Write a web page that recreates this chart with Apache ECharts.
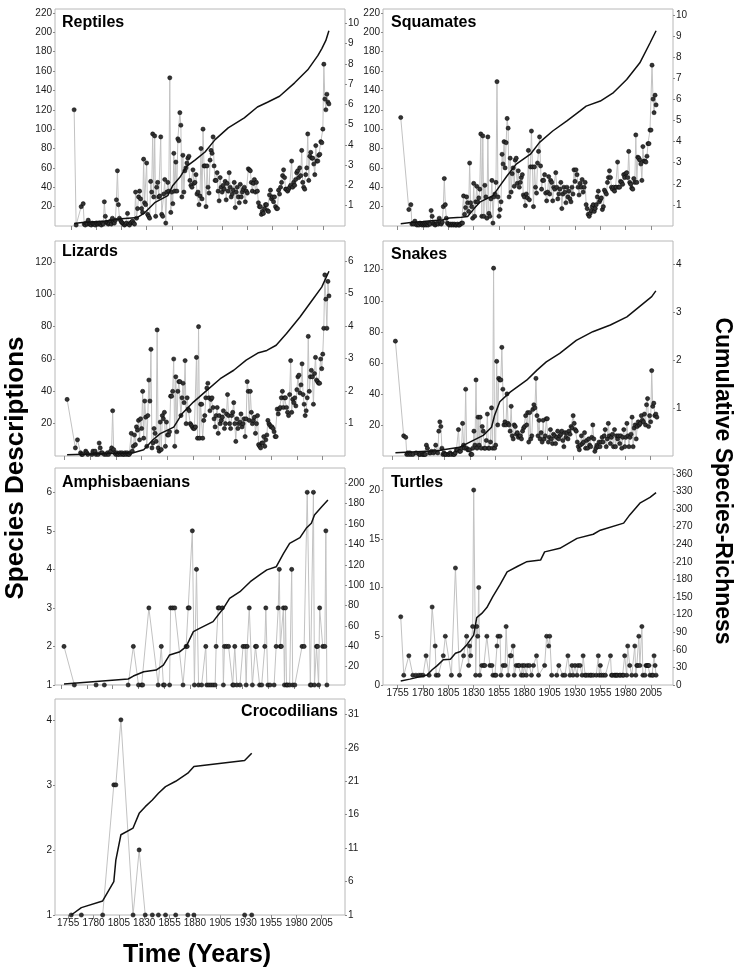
<!DOCTYPE html>
<html><head><meta charset="utf-8">
<script src="https://cdn.jsdelivr.net/npm/echarts@6/dist/echarts.min.js"></script>
<style>html,body{margin:0;padding:0;background:#fff}#c{width:735px;height:973px}</style>
</head><body><div id="c"></div>
<script>
// ---------- tick labels ----------
const tickYears = [1755,1780,1805,1830,1855,1880,1905,1930,1955,1980,2005];
const bigLeftTicks = [20,40,60,80,100,120,140,160,180,200,220];
const reptileRightTicks = [1,2,3,4,5,6,7,8,9,10];
const lizardLeftTicks = [20,40,60,80,100,120];
const lizardRightTicks = [1,2,3,4,5,6];
const snakeLeftTicks = [20,40,60,80,100,120];
const snakeRightTicks = [1,2,3,4];
const amphLeftTicks = [1,2,3,4,5,6];
const amphRightTicks = [20,40,60,80,100,120,140,160,180,200];
const turtleLeftTicks = [0,5,10,15,20];
const turtleRightTicks = [0,30,60,90,120,150,180,210,240,270,300,330,360];
const crocLeftTicks = [1,2,3,4];
const crocRightTicks = [1,6,11,16,21,26,31];

// ---------- Reptiles (annual, from 1758) ----------
const reptileStart = 1758;
const reptileDesc = [
 120,null,
 1,null,null,null,null,20,null,23,2,1,
 3,2,6,2,2,1,3,2,2,1,
 3,2,2,3,2,1,3,2,25,10,
 4,3,2,3,5,2,8,4,3,6,
 27,57,22,8,6,4,3,2,1,2,
 3,13,2,1,3,4,5,3,2,35,
 8,18,30,36,28,18,14,69,24,22,
 65,12,10,8,46,35,95,30,93,10,
 40,45,30,31,92,12,10,33,48,3,
 35,45,36,153,14,35,23,75,36,66,
 36,90,88,117,104,30,73,35,57,60,
 65,70,72,47,42,40,58,44,45,53,
 33,35,22,31,80,28,100,62,62,20,
 62,40,34,68,78,75,92,62,47,47,
 55,36,26,50,40,35,42,38,46,27,
 44,36,55,40,30,33,37,45,19,35,
 40,30,24,43,30,35,38,40,25,36,
 34,59,58,57,45,36,44,48,35,45,
 36,24,20,20,12,15,13,18,22,22,
 16,15,32,37,28,30,25,30,20,18,
 18,37,33,40,45,52,58,50,38,38,
 36,38,40,42,67,40,45,42,48,55,
 57,50,60,52,78,45,40,38,53,60,
 95,47,72,76,70,70,64,53,83,67,
 67,73,74,87,86,100,167,131,120,136,
 128,126
];
const reptileCumYears = [1758,1766,1790,1805,1815,1821,1828,1838,1851,1856,1863,1870,1878,1888,1898,1911,1927,1940,1950,1962,1977,1990,2000,2004,2008,2011];
const reptileCum = [0.12,0.17,0.25,0.36,0.40,0.42,0.65,1.15,1.50,2.00,2.40,2.95,3.25,3.65,4.26,4.84,5.33,5.87,6.10,6.40,7.06,7.70,8.40,8.75,9.15,9.63];

// ---------- Squamates ----------
const squamStart = 1758;
const squamDesc = [
 112,null,
 null,null,null,null,null,null,17,null,22,2,
 3,2,5,2,1,2,1,3,2,1,
 2,1,2,1,2,1,3,2,16,10,
 3,2,1,2,3,2,8,3,2,4,
 20,49,22,8,3,2,1,2,1,2,
 1,2,1,1,2,1,1,2,3,3,
 31,12,19,30,24,15,65,24,20,8,
 44,10,25,41,25,29,38,95,10,93,
 10,42,30,8,92,13,10,28,47,3,
 30,33,45,149,30,10,17,25,74,64,
 87,60,86,111,101,30,70,35,54,60,
 41,68,70,44,57,40,45,50,53,32,
 30,21,33,29,78,27,61,98,61,20,
 61,40,34,65,77,92,62,38,47,47,
 53,34,26,35,51,33,47,45,26,40,
 38,55,40,28,33,38,45,18,33,40,
 35,24,40,30,36,28,25,40,33,58,
 46,58,53,40,32,44,40,48,35,40,
 45,22,18,12,10,13,16,20,22,15,
 18,22,30,36,25,27,29,17,20,37,
 35,33,45,50,57,50,40,38,40,36,
 40,40,66,40,40,46,45,43,53,50,
 54,55,50,77,45,43,39,38,49,45,
 94,45,71,70,68,64,47,82,67,67,
 66,72,85,85,99,99,166,131,117,135,
 125
];
const squamCumYears = [1758,1768,1780,1800,1806,1818,1824,1830,1836,1849,1856,1863,1872,1886,1895,1908,1922,1935,1941,1955,1968,1981,1994,2004,2010];
const squamCum = [0.11,0.17,0.21,0.30,0.38,0.42,0.45,0.80,1.13,1.44,1.91,2.38,2.93,3.40,3.96,4.50,4.98,5.45,5.68,5.92,6.32,6.94,7.73,8.67,9.25];

// ---------- Lizards ----------
const lizardStart = 1758;
const lizardDesc = [
 35,null,
 null,null,null,null,null,null,5,null,10,null,
 null,2,1,1,null,null,3,2,1,null,
 null,null,1,3,null,3,1,null,1,8,
 5,2,2,null,1,null,1,2,1,null,
 3,5,28,4,2,1,2,1,1,2,
 1,2,1,1,2,1,2,1,1,2,
 14,3,6,13,7,18,16,22,10,23,
 17,40,11,34,24,6,25,47,34,66,
 5,8,17,14,9,78,5,3,21,4,
 25,23,27,6,21,13,13,15,37,37,
 40,60,6,49,15,40,46,46,25,36,
 45,33,59,20,36,29,28,20,19,18,
 17,17,18,61,11,80,11,32,32,11,
 22,25,36,42,45,36,28,35,36,30,
 23,18,25,30,14,25,20,22,24,28,
 17,20,26,38,25,20,17,25,27,33,
 20,9,23,17,20,21,26,18,20,23,
 12,23,46,40,22,40,27,20,22,24,
 14,20,25,7,6,5,8,8,12,6,
 10,13,22,20,19,18,18,17,15,12,
 12,29,26,29,30,36,40,30,36,36,
 30,27,25,38,59,27,35,33,36,31,
 41,49,50,39,44,57,38,32,25,28,
 36,74,40,49,53,49,32,51,61,47,
 46,45,45,60,54,63,79,112,97,79,
 108,99
];
const lizardCumYears = [1758,1800,1822,1832,1841,1848,1861,1869,1880,1893,1906,1919,1931,1943,1951,1960,1970,1983,1996,2004,2011];
const lizardCum = [0.04,0.08,0.10,0.19,0.50,0.69,0.89,1.30,1.66,2.02,2.38,2.64,2.95,3.18,3.25,3.41,3.77,4.28,4.85,5.20,5.69];

// ---------- Snakes ----------
const snakeStart = 1758;
const snakeDesc = [
 74,null,
 null,null,null,null,null,null,13,null,12,1,
 2,1,2,1,null,1,null,null,2,null,
 null,1,1,null,1,1,1,1,7,5,
 null,2,2,3,null,2,3,7,null,2,
 16,22,19,5,1,2,1,1,null,1,
 1,2,1,null,1,1,2,4,4,17,
 3,3,5,21,7,5,43,5,4,4,
 4,1,1,5,16,7,49,5,25,7,
 25,5,19,16,5,5,10,27,5,5,
 9,31,5,121,5,7,61,20,50,49,
 49,70,43,20,22,20,40,21,20,16,
 32,13,11,20,19,14,15,12,13,13,
 11,16,18,19,26,20,28,9,28,11,
 13,30,33,31,50,26,13,23,11,15,
 9,23,11,13,24,24,9,12,17,11,
 8,14,13,8,12,16,11,13,14,16,
 10,6,15,12,15,11,16,14,19,18,
 26,21,17,16,9,6,4,7,13,8,
 9,15,5,10,5,11,7,6,12,20,
 11,3,5,7,6,9,6,9,12,9,
 13,17,6,11,21,13,8,12,14,6,
 17,6,13,11,13,8,13,5,12,17,
 6,12,21,13,6,12,14,25,6,18,
 20,11,19,22,20,21,26,23,22,27,
 20,33,37,19,26,22,55,32,34,26,
 27,25
];
const snakeCumYears = [1758,1798,1820,1830,1843,1851,1854,1859,1869,1885,1895,1904,1917,1933,1949,1966,1982,1998,2006,2010];
const snakeCum = [0.07,0.11,0.18,0.29,0.43,0.60,0.85,1.13,1.33,1.58,1.79,1.96,2.14,2.41,2.59,2.73,2.90,3.18,3.32,3.44];

// ---------- Amphisbaenians ----------
const amphYears = [
 1758,1768,1789,1797,1820,1825,1830,1833,1834,1840,
 1849,1852,1854,1855,1860,1861,1863,1865,1873,1876,
 1877,1878,1879,1882,1884,1886,1888,1891,1895,1896,
 1898,1900,1902,1904,1905,1907,1908,1911,1912,1913,
 1915,1917,1921,1922,1923,1925,1928,1931,1933,1934,
 1935,1937,1940,1943,1944,1947,1949,1952,1953,1955,
 1957,1961,1963,1965,1966,1967,1968,1970,1971,1972,
 1973,1974,1976,1978,1979,1981,1988,1990,1993,1996,
 1997,1999,2000,2002,2003,2004,2005,2008,2010,2011,
 2012
];
const amphDesc = [
 2,1,1,1,1,2,1,1,1,3,
 1,2,1,1,1,3,3,3,1,2,
 2,3,3,5,1,4,1,1,2,1,
 1,1,1,1,2,3,3,3,1,2,
 2,2,1,1,2,1,1,2,2,1,
 2,3,1,2,2,1,1,2,3,1,
 1,1,2,3,4,2,2,3,1,3,
 1,1,1,4,1,1,2,2,6,1,
 1,6,1,2,2,1,3,2,2,5,
 1
];
const amphCumYears = [1758,1820,1825,1835,1847,1854,1860,1870,1876,1883,1889,1902,1912,1918,1928,1938,1947,1954,1963,1970,1976,1986,1992,1997,2000,2007,2013];
const amphCum = [3,7.9,10.8,15,16.7,21.6,31.5,34.7,39.6,54.4,57.6,64.2,77.3,87,93.6,103.4,110,115,118,131,141,146.6,155.8,160.7,168.9,177,183.6];

// ---------- Turtles ----------
const turtleYears = [
 1758,1761,1766,1770,1773,1776,1778,1780,1783,1786,
 1789,1792,1793,1795,1800,1802,1808,1812,1816,1820,
 1823,1825,1826,1827,1829,1830,1832,1833,1834,1835,
 1836,1838,1840,1841,1843,1846,1848,1849,1851,1852,
 1853,1854,1856,1857,1859,1861,1862,1864,1866,1867,
 1869,1870,1872,1874,1875,1877,1878,1879,1880,1882,
 1883,1885,1887,1889,1892,1894,1900,1902,1904,1905,
 1907,1912,1914,1918,1920,1923,1925,1927,1928,1930,
 1932,1933,1935,1937,1938,1940,1941,1943,1945,1946,
 1948,1951,1953,1954,1955,1956,1958,1960,1965,1966,
 1967,1969,1970,1971,1972,1974,1975,1977,1978,1979,
 1981,1982,1984,1986,1989,1990,1991,1992,1993,1994,
 1996,1997,1999,2000,2001,2002,2003,2004,2006,2007,
 2008,2009,2010
];
const turtleDesc = [
 7,1,3,1,1,1,1,1,3,1,
 8,4,1,1,3,5,1,12,1,3,
 5,2,4,3,6,20,1,6,5,10,
 1,2,2,2,5,2,2,1,1,1,
 4,5,5,1,2,2,6,1,3,3,
 4,1,2,2,2,1,2,1,2,1,
 2,2,1,2,3,1,2,5,4,5,
 1,1,2,1,1,3,1,2,1,2,
 1,2,2,1,3,1,1,1,1,1,
 1,1,3,1,2,1,1,1,3,1,
 1,1,1,1,1,1,1,1,1,3,
 1,4,2,1,4,1,2,2,5,2,
 6,1,1,2,2,2,2,1,1,1,
 3,2,1
];
const turtleCumYears = [1758,1767,1784,1789,1794,1800,1807,1812,1817,1823,1830,1833,1838,1843,1849,1856,1863,1873,1882,1896,1900,1915,1932,1948,1955,1978,1984,1994,2004,2010];
const turtleCum = [7,10,17,26,33,43,44,54,57,68,85,115,122,132,151,171,193,202,210,213,227,233,250,257,264,276,290,310,320,328];

// ---------- Crocodilians ----------
const crocYears = [1758,1768,1789,1800,1802,1807,1819,1825,1831,1838,1844,1851,1861,1873,1879,1929,1936];
const crocDesc = [1,1,1,3,3,4,1,2,1,1,1,1,1,1,1,1,1];
const crocCumYears = [1758,1768,1789,1800,1802,1807,1819,1825,1831,1838,1844,1851,1861,1873,1879,1929,1936];
const crocCum = [1,2.1,3.1,6,9.2,13,14,16.2,17.2,18.2,19.2,20.2,21,22.2,23.2,24.1,25.2];

// ---------- helpers ----------
const annual = (start, vals) => vals.map((v, i) => [start + i, v]);
const pairs = (xs, vs) => xs.map((x, i) => [x, vs[i]]);
const FONT = 'Liberation Sans, Arial, sans-serif';

const panels = [
 {name:'Reptiles', box:[55,9,290,217], x:[1739,2027], yl:[0,224], yr:[0,10.7], lt:bigLeftTicks, rt:reptileRightTicks,
  desc:annual(reptileStart, reptileDesc), cum:pairs(reptileCumYears, reptileCum), xl:false, tx:62, ty:23, ta:'left'},
 {name:'Squamates', box:[383,9,290,217], x:[1740.5,2026.7], yl:[0,224], yr:[0,10.28], lt:bigLeftTicks, rt:reptileRightTicks,
  desc:annual(squamStart, squamDesc), cum:pairs(squamCumYears, squamCum), xl:false, tx:391, ty:23, ta:'left'},
 {name:'Lizards', box:[55,241,290,215], x:[1746.3,2026.5], yl:[0,133], yr:[0,6.62], lt:lizardLeftTicks, rt:lizardRightTicks,
  desc:annual(lizardStart, lizardDesc), cum:pairs(lizardCumYears, lizardCum), xl:false, tx:62, ty:252, ta:'left'},
 {name:'Snakes', box:[383,241,290,215], x:[1746,2026.6], yl:[0,138.5], yr:[0,4.48], lt:snakeLeftTicks, rt:snakeRightTicks,
  desc:annual(snakeStart, snakeDesc), cum:pairs(snakeCumYears, snakeCum), xl:false, tx:391, ty:255, ta:'left'},
 {name:'Amphisbaenians', box:[55,468,290,217], x:[1749.3,2029.5], yl:[1,6.63], yr:[2,215], lt:amphLeftTicks, rt:amphRightTicks,
  desc:pairs(amphYears, amphDesc), cum:pairs(amphCumYears, amphCum), xl:false, tx:62, ty:483, ta:'left'},
 {name:'Turtles', box:[383,468,290,217], x:[1740.5,2026.7], yl:[0,22.26], yr:[0,370], lt:turtleLeftTicks, rt:turtleRightTicks,
  desc:pairs(turtleYears, turtleDesc), cum:pairs(turtleCumYears, turtleCum), xl:true, tx:391, ty:483, ta:'left'},
 {name:'Crocodilians', box:[55,699,290,216], x:[1742,2028], yl:[1,4.32], yr:[1,33.3], lt:crocLeftTicks, rt:crocRightTicks,
  desc:pairs(crocYears, crocDesc), cum:pairs(crocCumYears, crocCum), xl:true, tx:338, ty:712, ta:'right'}
];

const grid = [], xAxis = [], yAxis = [], series = [], graphic = [];
const tickStyle = {color:'#8a8a8a', width:1};
const labelStyle = {color:'#1a1a1a', fontSize:10, fontFamily:FONT};
const plain = v => String(Math.round(v));

panels.forEach((p, i) => {
  grid.push({left:p.box[0], top:p.box[1], width:p.box[2], height:p.box[3], show:true,
    borderColor:'#b8b8b8', borderWidth:1, backgroundColor:'transparent', containLabel:false});
  xAxis.push({type:'value', gridIndex:i, min:p.x[0], max:p.x[1],
    axisLine:{show:false}, splitLine:{show:false},
    axisTick:{show:true, length:4, lineStyle:tickStyle, customValues:tickYears},
    axisLabel:{show:p.xl, margin:3, ...labelStyle, customValues:tickYears, formatter:plain, hideOverlap:false}});
  yAxis.push({type:'value', gridIndex:i, position:'left', min:p.yl[0], max:p.yl[1],
    axisLine:{show:false}, splitLine:{show:false},
    axisTick:{show:true, length:2, lineStyle:tickStyle, customValues:p.lt},
    axisLabel:{margin:3, ...labelStyle, customValues:p.lt, formatter:plain}});
  yAxis.push({type:'value', gridIndex:i, position:'right', min:p.yr[0], max:p.yr[1],
    axisLine:{show:false}, splitLine:{show:false},
    axisTick:{show:true, length:2, lineStyle:tickStyle, customValues:p.rt},
    axisLabel:{margin:3, ...labelStyle, customValues:p.rt, formatter:plain}});
  series.push({type:'line', name:p.name + ' descriptions', xAxisIndex:i, yAxisIndex:2*i, data:p.desc,
    connectNulls:true, symbol:'circle', symbolSize:4.2, showSymbol:true,
    lineStyle:{color:'#c2c2c2', width:1}, itemStyle:{color:'#333', borderColor:'#000', borderWidth:0.5},
    emphasis:{disabled:true}, z:2});
  series.push({type:'line', name:p.name + ' cumulative', xAxisIndex:i, yAxisIndex:2*i+1, data:p.cum,
    symbol:'none', lineStyle:{color:'#111', width:1.5}, emphasis:{disabled:true}, z:3});
  graphic.push({type:'text', x:p.tx, y:p.ty, z:10,
    style:{text:p.name, fill:'#000', font:'bold 16px ' + FONT, textAlign:p.ta, textVerticalAlign:'middle'}});
});

graphic.push({type:'text', x:16, y:468, rotation:Math.PI/2, z:10,
  style:{text:'Species Descriptions', fill:'#000', font:'bold 26px ' + FONT, textAlign:'center', textVerticalAlign:'middle'}});
graphic.push({type:'text', x:722, y:481, rotation:-Math.PI/2, z:10,
  style:{text:'Cumulative Species-Richness', fill:'#000', font:'bold 23px ' + FONT, textAlign:'center', textVerticalAlign:'middle'}});
graphic.push({type:'text', x:197, y:955, z:10,
  style:{text:'Time (Years)', fill:'#000', font:'bold 25px ' + FONT, textAlign:'center', textVerticalAlign:'middle'}});

const chart = echarts.init(document.getElementById('c'), null, {renderer:'canvas'});
chart.setOption({animation:false, backgroundColor:'#fff', grid, xAxis, yAxis, series, graphic});
</script>
</body></html>
